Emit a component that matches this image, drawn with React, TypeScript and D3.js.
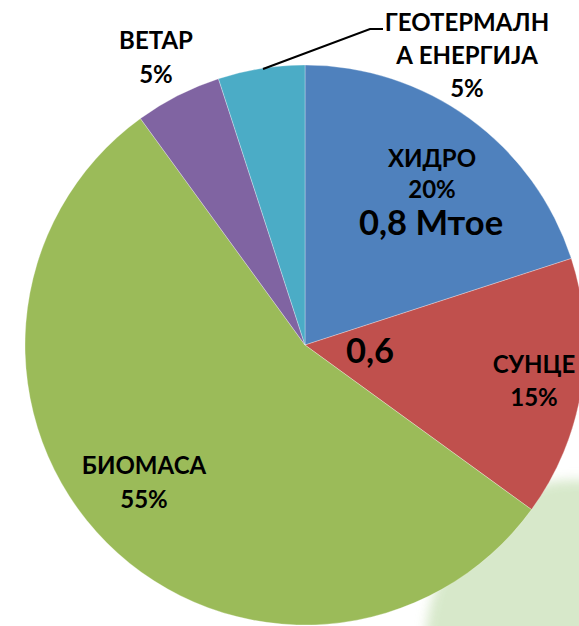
import React from "react";
import * as d3 from "d3";

const categories = ["ХИДРО", "СУНЦЕ", "БИОМАСА", "ВЕТАР", "ГЕОТЕРМАЛНА ЕНЕРГИЈА"];
const percents = [20, 15, 55, 5, 5];
const colors = ["#4F81BD", "#C0504D", "#9BBB59", "#8064A2", "#4BACC6"];
const labelLines = [
  ["ХИДРО", "20%"],
  ["СУНЦЕ", "15%"],
  ["БИОМАСА", "55%"],
  ["ВЕТАР", "5%"],
  ["ГЕОТЕРМАЛН", "А ЕНЕРГИЈА", "5%"],
];
const annotations = ["0,8 Мтое", "0,6"];

const W = 579;
const H = 626;
const cx = 305;
const cy = 345;
const R = 280;

// label anchor (center x, first baseline) relative to pie center, and line gap
const labelPos: [number, number, number][] = [
  [127, -178, 31],
  [229, 28, 33],
  [-161, 129, 34],
  [-149, -296, 34],
  [162, -314, 33],
];

export default function App() {
  const pie = d3.pie<number>().sort(null).value((d) => d)(percents);
  const arc = d3.arc<d3.PieArcDatum<number>>().innerRadius(0).outerRadius(R);
  const font = "Lato, 'Open Sans', sans-serif";
  return (
    <svg width={W} height={H} style={{ position: "absolute", left: 0, top: 0 }}>
      <defs>
        <filter id="blur" x="-50%" y="-50%" width="200%" height="200%">
          <feGaussianBlur stdDeviation="6" />
        </filter>
      </defs>
      <rect width={W} height={H} fill="#fff" />
      <ellipse cx={575} cy={650} rx={150} ry={170} fill="#d3e6c5" filter="url(#blur)" opacity={0.9} />
      <g transform={`translate(${cx},${cy})`}>
        {pie.map((p, i) => (
          <path key={categories[i]} d={arc(p) || ""} fill={colors[i]} stroke="#ffffff" strokeOpacity={0.5} strokeWidth={0.6} />
        ))}
      </g>
      <polyline points="263,69 370,29 383,29" fill="none" stroke="#000" strokeWidth={2} />
      <g fontFamily={font} fontWeight="bold" fontSize={24} textAnchor="middle" fill="#000">
        {labelLines.map((lines, i) =>
          lines.map((t, j) => (
            <text key={i + "-" + j} x={cx + labelPos[i][0]} y={cy + labelPos[i][1] + j * labelPos[i][2]}>
              {t}
            </text>
          ))
        )}
      </g>
      <g fontFamily={font} fontWeight="bold" fontSize={34.5} textAnchor="middle" fill="#000">
        <text x={431} y={235}>{annotations[0]}</text>
        <text x={370} y={363}>{annotations[1]}</text>
      </g>
    </svg>
  );
}
